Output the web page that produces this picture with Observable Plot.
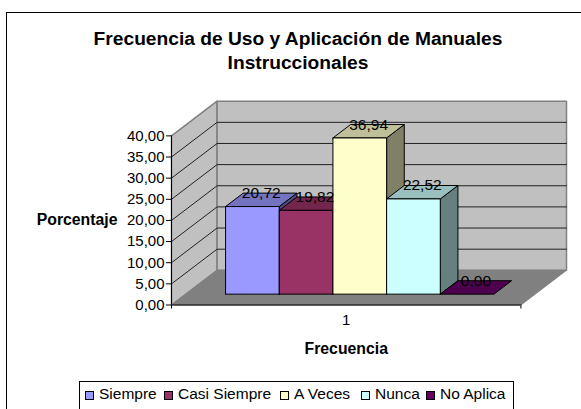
<!DOCTYPE html>
<html lang="es">
<head>
<meta charset="utf-8">
<script src="https://cdn.jsdelivr.net/npm/d3@7"></script>
<script src="https://cdn.jsdelivr.net/npm/@observablehq/plot@0.6"></script>
<style>
html,body{margin:0;padding:0;width:581px;height:409px;overflow:hidden;background:#fff;font-family:"Liberation Sans",Arial,sans-serif;color:#000}
#frame{position:absolute;left:6px;top:12px;width:600px;height:420px;border:1.5px solid #000;box-sizing:border-box}
#title{position:absolute;left:0;width:596px;top:27px;text-align:center;font-weight:bold;font-size:19.2px;line-height:24px}
#chart{position:absolute;left:0;top:0}
#legend{position:absolute;left:79px;top:381px;width:435px;height:40px;border:1.5px solid #000;border-bottom:none;box-sizing:border-box;font-size:15.5px;line-height:18px}
#legend span{position:absolute;top:3px;white-space:nowrap}
#legend i{display:inline-block;width:7px;height:7px;border:1px solid #000;margin-right:5px;vertical-align:-1px}
</style>
</head>
<body>
<div id="frame"></div>
<div id="title">Frecuencia de Uso y Aplicación de Manuales<br>Instruccionales</div>
<div id="chart"></div>
<div id="legend"></div>
<script>
const series = ["Siempre", "Casi Siempre", "A Veces", "Nunca", "No Aplica"];
const values = [20.72, 19.82, 36.94, 22.52, 0.00];
const colors = ["#9999FF", "#993366", "#FFFFCC", "#CCFFFF", "#660066"];
const yTicks = [0, 5, 10, 15, 20, 25, 30, 35, 40];
const category = "1";

// Oblique 3D projection, all in data units
const depthX = 0.849, depthY = 8.2;            // shift of one full depth unit
const floorW = 6.51, barStart = 0.742;         // floor width, first bar offset
const d0 = 0.313, d1 = 0.70;                   // bar depth span
const yMax = 40;
const P = (u, v, d) => ({x: u + depthX * d, y: v + depthY * d});
const fmt = v => v.toFixed(2).replace(".", ",");
const shade = (c, k) => { const r = d3.rgb(c); return d3.rgb(r.r * k, r.g * k, r.b * k).formatHex(); };

function face(id, fill, pts) {
  return [...pts, pts[0]].map(p => ({id, fill, ...P(...p)}));
}

const wallFaces = [
  ...face("left", "#C0C0C0", [[0,0,0],[0,yMax,0],[0,yMax,1],[0,0,1]]),
  ...face("back", "#C0C0C0", [[0,0,1],[0,yMax,1],[floorW,yMax,1],[floorW,0,1]]),
];
const floorFace = face("floor", "#808080", [[0,0,0],[floorW,0,0],[floorW,0,1],[0,0,1]]);

const gridLines = yTicks.filter(t => t > 0 && t < yMax).flatMap(t => [
  {id: t, ...P(0,t,0)}, {id: t, ...P(0,t,1)}, {id: t, ...P(floorW,t,1)}
]);

const barFaces = series.flatMap((s, i) => {
  const a = barStart + i, b = a + 1, h = values[i], c = colors[i];
  return [
    ...(h > 0 ? face(s + "-side", shade(c, 0.5), [[b,0,d0],[b,h,d0],[b,h,d1],[b,0,d1]]) : []),
    ...face(s + "-top", shade(c, 0.75), [[a,h,d0],[b,h,d0],[b,h,d1],[a,h,d1]]),
    ...(h > 0 ? face(s + "-front", c, [[a,0,d0],[b,0,d0],[b,h,d0],[a,h,d0]]) : []),
  ];
});

const labels = series.map((s, i) => ({
  text: fmt(values[i]),
  ...P(barStart + i + 0.5, values[i], (d0 + d1) / 2),
  y: P(0, values[i], d1).y
}));

const plot = Plot.plot({
  width: 581, height: 409,
  marginLeft: 171, marginRight: 15, marginTop: 100.7, marginBottom: 104.5,
  style: {background: "transparent", fontFamily: "'Liberation Sans',Arial,sans-serif", fontSize: "15px", color: "#000", overflow: "visible"},
  x: {domain: [0, floorW + depthX], axis: null},
  y: {domain: [0, yMax + depthY], axis: null},
  color: {type: "identity"},
  marks: [
    Plot.line(wallFaces, {x: "x", y: "y", z: "id", fill: "fill", stroke: "#808080", strokeWidth: 1.5}),
    Plot.line(floorFace, {x: "x", y: "y", z: "id", fill: "fill", stroke: "#808080", strokeWidth: 1}),
    Plot.line(gridLines, {x: "x", y: "y", z: "id", stroke: "#222", strokeWidth: 1}),
    Plot.line(barFaces, {x: "x", y: "y", z: "id", fill: "fill", stroke: "#000", strokeWidth: 1}),
    Plot.ruleX([0], {y1: 0, y2: yMax, stroke: "#000"}),
    Plot.ruleY([0], {x1: 0, x2: floorW, stroke: "#000"}),
    Plot.axisY({anchor: "left", ticks: yTicks, tickSize: 5, tickPadding: 2, tickFormat: fmt, label: null, fontSize: 15}),
    Plot.axisX({anchor: "bottom", ticks: [0, floorW], tickSize: 4, tickFormat: () => "", label: null}),
    Plot.axisX({anchor: "bottom", ticks: [floorW / 2], tickSize: 0, tickPadding: 9, tickFormat: () => category, label: null, fontSize: 15}),
    Plot.text(labels, {x: "x", y: "y", text: "text", fontSize: 15.5, fill: "#000"}),
    Plot.text(["Porcentaje"], {frameAnchor: "left", y: () => 20.2, dx: -54, textAnchor: "end", fontWeight: "bold", fontSize: 15.8, fill: "#000"}),
    Plot.text(["Frecuencia"], {frameAnchor: "bottom", x: () => floorW / 2, dy: 49, fontWeight: "bold", fontSize: 15.8, fill: "#000"})
  ]
});
document.getElementById("chart").append(plot);

const legendX = [5, 84, 200, 281, 346];
const legend = document.getElementById("legend");
series.forEach((s, i) => {
  const el = document.createElement("span");
  el.style.left = legendX[i] + "px";
  const sw = document.createElement("i");
  sw.style.background = colors[i];
  el.append(sw, s);
  legend.append(el);
});
</script>
</body>
</html>
